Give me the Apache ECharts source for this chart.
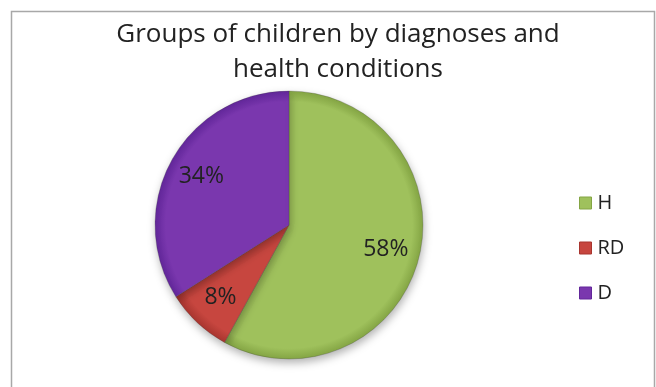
<!DOCTYPE html>
<html>
<head>
<meta charset="utf-8">
<script src="https://cdn.jsdelivr.net/npm/echarts@6/dist/echarts.min.js"></script>
<style>
  html, body { margin: 0; padding: 0; background: #fff; }
  #chart { width: 656px; height: 387px; }
</style>
</head>
<body>
<div id="chart"></div>
<script>
// Share of children by group
const categories = ['H', 'RD', 'D'];
const shares = [58, 8, 34];
const colors = ['#9FC15C', '#C7463F', '#7A37AE'];
const darker = ['#84A544', '#A8352F', '#62279A'];

const CX = 289, CY = 225, R = 134;

const chart = echarts.init(document.getElementById('chart'));

// bevelled rim: flat fill that darkens slightly toward the outer edge
function sliceFill(i) {
  return {
    type: 'radial', x: CX, y: CY, r: R, global: true,
    colorStops: [
      { offset: 0, color: colors[i] },
      { offset: 0.92, color: colors[i] },
      { offset: 1, color: darker[i] }
    ]
  };
}

const pieData = categories.map((name, i) => ({
  name, value: shares[i],
  itemStyle: { color: sliceFill(i) }
}));

const FONT = 'Open Sans';

chart.setOption({
  animation: false,
  color: colors,
  graphic: [{
    type: 'rect',
    shape: { x: 11.5, y: 11.5, width: 643, height: 400 },
    style: { fill: 'none', stroke: '#a8a8a8', lineWidth: 1.5 },
    silent: true
  }],
  title: {
    text: 'Groups of children by diagnoses and\nhealth conditions',
    left: 333, top: 12, textAlign: 'center',
    textStyle: { fontFamily: FONT, fontWeight: 'normal', fontSize: 26, lineHeight: 35, color: '#222' }
  },
  legend: {
    orient: 'vertical', left: 574, top: 188,
    itemWidth: 12, itemHeight: 12, itemGap: 25,
    icon: 'rect',
    data: categories.map((name, i) => ({ name, itemStyle: { color: colors[i], borderColor: darker[i], borderWidth: 1 } })),
    textStyle: { fontFamily: FONT, fontSize: 20, color: '#222', padding: [0, 0, 0, 1] }
  },
  series: [{
    type: 'pie',
    center: [CX, CY],
    radius: [0, R],
    startAngle: 90,
    clockwise: true,
    label: { show: false },
    labelLine: { show: false },
    itemStyle: {
      borderColor: 'rgba(60,60,60,0.3)', borderWidth: 0.8,
      shadowBlur: 8, shadowOffsetY: 4, shadowOffsetX: 1, shadowColor: 'rgba(0,0,0,0.3)'
    },
    data: pieData,
    silent: true
  }, {
    // transparent ring that carries the percentage labels further out
    type: 'pie',
    center: [CX, CY],
    radius: [60, R],
    startAngle: 90,
    clockwise: true,
    itemStyle: { color: 'rgba(0,0,0,0)' },
    label: {
      show: true, position: 'inside',
      formatter: p => p.value + '%',
      fontFamily: FONT, fontSize: 23, color: '#222'
    },
    labelLine: { show: false },
    data: categories.map((name, i) => ({ name, value: shares[i] })),
    silent: true,
    legendHoverLink: false
  }]
});
</script>
</body>
</html>
